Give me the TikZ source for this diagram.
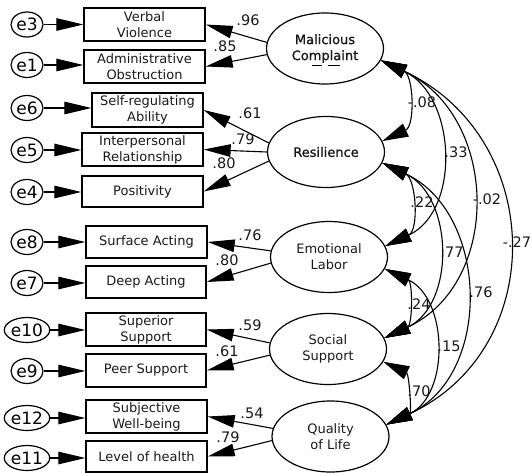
\documentclass[tikz,border=0pt]{standalone}
\usepackage{fontspec}
\setmainfont{DejaVu Sans}
\newfontfamily\heavyfont{DejaVu Sans}[FakeBold=1.2]
\usetikzlibrary{arrows.meta,shapes.geometric}
\begin{document}
\begin{tikzpicture}[x=1pt,y=1pt,
  font=\fontsize{13}{16}\selectfont,
  fat/.tip={Triangle[length=27pt,width=12.5pt]},
  wide/.tip={Triangle[length=26pt,width=14pt]},
  err/.style={ellipse, draw, line width=1.2pt, minimum width=32pt, minimum height=25pt,
    inner sep=0pt, font=\fontsize{17}{18}\selectfont},
  obs/.style={rectangle, draw, line width=1.3pt, inner sep=0pt, align=center, text=black!90},
  lat/.style={ellipse, draw, line width=1.2pt, minimum width=117pt, minimum height=71pt,
    inner sep=0pt, align=center, text=black!90},
  load/.style={-fat, line width=1.1pt},
  cov/.style={wide-wide, line width=1.1pt, looseness=1.15},
  coef/.style={inner sep=0pt, font=\fontsize{14.5}{16}\selectfont, text=black!90}
]
\useasboundingbox (0,0) rectangle (532,-473);

% latent variables
\node[lat] (mc)  at (325,-48.5) {\heavyfont Malicious\\\heavyfont Complaint};
\node[lat] (res) at (326,-152)  {\heavyfont Resilience};
\node[lat] (el)  at (329,-257)  {Emotional\\Labor};
\node[lat] (ss)  at (328,-349)  {Social\\Support};
\node[lat] (ql)  at (330.5,-436.5) {Quality\\of Life};
\draw[line width=1pt] ([xshift=-13pt,yshift=-17.5pt]mc.center) -- ++(10,0)
                      ([xshift=3pt,yshift=-17.5pt]mc.center) -- ++(12,0);

% observed indicators
\node[obs, minimum width=121pt, minimum height=33pt] (vv) at (144.5,-24.5) {Verbal\\Violence};
\node[obs, minimum width=121pt, minimum height=33pt] (ao) at (144.5,-66.5) {Administrative\\Obstruction};
\node[obs, minimum width=111pt, minimum height=34pt] (sr) at (147.5,-110) {Self-regulating\\Ability};
\node[obs, minimum width=121pt, minimum height=33pt] (ir) at (142.5,-149.5) {Interpersonal\\Relationship};
\node[obs, minimum width=121pt, minimum height=31pt] (po) at (142.5,-191.5) {Positivity};
\node[obs, minimum width=121pt, minimum height=32pt] (sa) at (146.5,-242) {Surface Acting};
\node[obs, minimum width=120pt, minimum height=32pt] (da) at (146,-282) {Deep Acting};
\node[obs, minimum width=120pt, minimum height=33pt] (su) at (146,-329.5) {Superior\\Support};
\node[obs, minimum width=120pt, minimum height=33pt] (ps) at (146,-370.5) {Peer Support};
\node[obs, minimum width=121pt, minimum height=33pt] (sw) at (146.5,-416.5) {Subjective\\Well-being};
\node[obs, minimum width=121pt, minimum height=31pt] (lh) at (146.5,-456.5) {Level of health};

% error terms
\node[err] (e3)  at (27,-24.5) {e3};
\node[err] (e1)  at (27,-65)   {e1};
\node[err] (e6)  at (27,-108)  {e6};
\node[err] (e5)  at (27,-150)  {e5};
\node[err] (e4)  at (27,-192)  {e4};
\node[err] (e8)  at (27,-242)  {e8};
\node[err] (e7)  at (27,-283)  {e7};
\node[err] (e10) at (27,-330)  {e10};
\node[err] (e9)  at (27,-371)  {e9};
\node[err] (e12) at (27,-418)  {e12};
\node[err] (e11) at (27,-458)  {e11};

\foreach \e/\b in {e3/vv,e1/ao,e6/sr,e5/ir,e4/po,e8/sa,e7/da,e10/su,e9/ps,e12/sw,e11/lh}
  \draw[load] (\e.east) -- (\e.east -| \b.west);

% factor loadings
\draw[load] (mc.174)  -- (vv.east);
\draw[load] (mc.186)  -- (ao.east);
\draw[load] (res.171) -- (sr.east);
\draw[load] (res.180) -- (ir.east);
\draw[load] (res.189) -- (po.east);
\draw[load] (el.174)  -- (sa.east);
\draw[load] (el.186)  -- (da.east);
\draw[load] (ss.174)  -- (su.east);
\draw[load] (ss.186)  -- (ps.east);
\draw[load] (ql.172)  -- (sw.east);
\draw[load] (ql.184)  -- (lh.east);

\node[coef] (l1)  at (248,-20)  {.96};
\node[coef] (l2)  at (225,-46)  {.85};
\node[coef] (l3)  at (250,-113) {.61};
\node[coef] (l4)  at (243,-139) {.79};
\node[coef] (l5)  at (224,-163) {.80};
\node[coef] (l6)  at (250,-235) {.76};
\node[coef] (l7)  at (227,-260) {.80};
\node[coef] (l8)  at (250,-325) {.59};
\node[coef] (l9)  at (227,-351) {.61};
\node[coef] (l10) at (252,-413) {.54};
\node[coef] (l11) at (228,-437) {.79};

% covariances between latent variables
\draw[cov] (mc.-12)  to[out=-25,in=25] (res.11);
\draw[cov] (mc.-12)  to[out=-25,in=25] (el.11);
\draw[cov] (mc.-12)  to[out=-25,in=25,looseness=1.2] (ss.11);
\draw[cov] (mc.-12)  to[out=-25,in=25,looseness=1.27] (ql.12);
\draw[cov] (res.-11) to[out=-25,in=25] (el.11);
\draw[cov] (res.-11) to[out=-25,in=25] (ss.11);
\draw[cov] (res.-11) to[out=-25,in=25] (ql.12);
\draw[cov] (el.-12)  to[out=-25,in=25] (ss.11);
\draw[cov] (el.-12)  to[out=-25,in=25] (ql.12);
\draw[cov] (ss.-13)  to[out=-25,in=25] (ql.12);

\node[coef] (c1)  at (422,-102) {-.08};
\node[coef] (c2)  at (456,-152) {.33};
\node[coef] (c3)  at (487,-199) {-.02};
\node[coef] (c4)  at (517,-242) {-.27};
\node[coef] (c5)  at (422,-202) {.22};
\node[coef] (c6)  at (452,-252) {.77};
\node[coef] (c7)  at (481,-292) {.76};
\node[coef] (c8)  at (419,-304) {.24};
\node[coef] (c9)  at (449,-346) {.15};
\node[coef] (c10) at (419,-391) {.70};
\end{tikzpicture}
\end{document}
